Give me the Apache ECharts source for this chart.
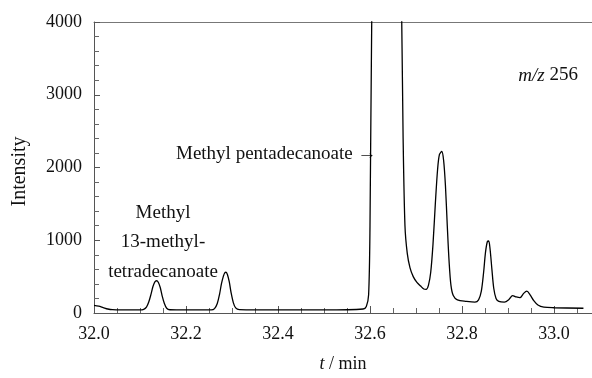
<!DOCTYPE html>
<html>
<head>
<meta charset="utf-8">
<script src="https://cdn.jsdelivr.net/npm/echarts@6/dist/echarts.min.js"></script>
<style>
  html, body { margin: 0; padding: 0; background: #fff; }
  #chart { width: 592px; height: 378px; }
</style>
</head>
<body>
<div id="chart"></div>
<script>
// retention time (min) and intensity
var times = [
  32.000, 32.010, 32.020, 32.030, 32.040, 32.060, 32.100, 32.108, 32.114, 32.119,
  32.124, 32.128, 32.132, 32.136, 32.140, 32.144, 32.148, 32.153, 32.158, 32.165,
  32.200, 32.255, 32.262, 32.268, 32.273, 32.277, 32.281, 32.284, 32.287, 32.290,
  32.294, 32.298, 32.303, 32.308, 32.316, 32.400, 32.500, 32.585, 32.592, 32.597,
  32.600, 32.604, 32.615, 32.635, 32.655, 32.669, 32.672, 32.676, 32.681, 32.687,
  32.694, 32.702, 32.710, 32.717, 32.722, 32.727, 32.732, 32.737, 32.742, 32.747,
  32.751, 32.756, 32.760, 32.764, 32.768, 32.772, 32.776, 32.781, 32.790, 32.810,
  32.828, 32.836, 32.842, 32.847, 32.851, 32.855, 32.858, 32.861, 32.865, 32.869,
  32.874, 32.880, 32.892, 32.902, 32.910, 32.918, 32.926, 32.934, 32.941, 32.948,
  32.956, 32.965, 32.978, 33.000, 33.064
];
var intensity = [
  105, 95, 75, 55, 45, 42, 42, 50, 80, 150,
  260, 360, 425, 443, 420, 350, 240, 130, 65, 45,
  42, 42, 60, 130, 260, 400, 500, 550, 560, 530,
  430, 280, 140, 70, 46, 42, 42, 55, 90, 250,
  1200, 4200, 9000, 14000, 9000, 4000, 2400, 1200, 820, 620,
  500, 420, 370, 330, 325, 380, 560, 950, 1500, 1980,
  2180, 2220, 2100, 1750, 1200, 700, 380, 240, 180, 160,
  150, 180, 300, 560, 830, 980, 990, 880, 600, 340,
  200, 160, 150, 185, 240, 220, 210, 270, 300, 250,
  170, 110, 80, 72, 65
];
var yTicks = [0, 1000, 2000, 3000, 4000];

var points = times.map(function (t, i) { return [t, intensity[i]]; });

var serif = "'Liberation Serif', 'DejaVu Serif', serif";
var chart = echarts.init(document.getElementById('chart'));
chart.setOption({
  animation: false,
  grid: { left: 94, right: 0, top: 22, bottom: 61 },
  xAxis: [
    {
      type: 'value',
      min: 32.0,
      max: 33.0826,
      interval: 0.2,
      name: '{i|t} / min',
      nameLocation: 'middle',
      nameGap: 42,
      nameTextStyle: {
        fontFamily: serif, fontSize: 18, color: '#111',
        rich: { i: { fontFamily: serif, fontSize: 18, fontStyle: 'italic', color: '#111' } }
      },
      axisLine: { lineStyle: { color: '#555', width: 1 } },
      axisTick: { inside: true, length: 7, lineStyle: { color: '#555' } },
      minorTick: { show: true, splitNumber: 4, length: 5, lineStyle: { color: '#666' } },
      axisLabel: {
        margin: 12, fontFamily: serif, fontSize: 18, color: '#111',
        showMaxLabel: false,
        formatter: function (v) { return v.toFixed(1); }
      },
      splitLine: { show: false }
    },
    {
      type: 'value',
      position: 'top',
      min: 32.0,
      max: 33.0826,
      axisLine: { show: true, lineStyle: { color: '#777', width: 1 } },
      axisTick: { show: false },
      axisLabel: { show: false },
      splitLine: { show: false }
    }
  ],
  yAxis: {
    type: 'value',
    min: yTicks[0],
    max: yTicks[yTicks.length - 1],
    interval: 1000,
    name: 'Intensity',
    nameLocation: 'middle',
    nameGap: 64,
    nameTextStyle: { fontFamily: serif, fontSize: 20, color: '#111', padding: [0, 8, 0, 0] },
    axisLine: { show: true, lineStyle: { color: '#555', width: 1 } },
    axisTick: { inside: true, length: 6, lineStyle: { color: '#555' } },
    minorTick: { show: true, splitNumber: 5, length: 5, lineStyle: { color: '#666' } },
    axisLabel: {
      margin: 12, fontFamily: serif, fontSize: 18, color: '#111',
      formatter: function (v) { return String(v); }
    },
    splitLine: { show: false }
  },
  series: [{
    type: 'line',
    data: points,
    showSymbol: false,
    smooth: 0.3,
    clip: true,
    lineStyle: { color: '#000', width: 1.3 }
  }],
  graphic: [
    {
      type: 'text', left: 176, top: 145,
      style: { text: 'Methyl pentadecanoate \u2192', font: '19px ' + serif, fill: '#111' }
    },
    {
      type: 'text', right: 14, top: 66,
      style: {
        text: '{i|m/z} 256', font: '19px ' + serif, fill: '#111',
        rich: { i: { fontStyle: 'italic', fontFamily: serif, fontSize: 19, fill: '#111' } }
      }
    },
    {
      type: 'text', x: 163, y: 198,
      style: {
        text: 'Methyl\n13-methyl-\ntetradecanoate',
        font: '19px ' + serif, fill: '#111', align: 'center', lineHeight: 29.5
      }
    }
  ]
});
</script>
</body>
</html>
